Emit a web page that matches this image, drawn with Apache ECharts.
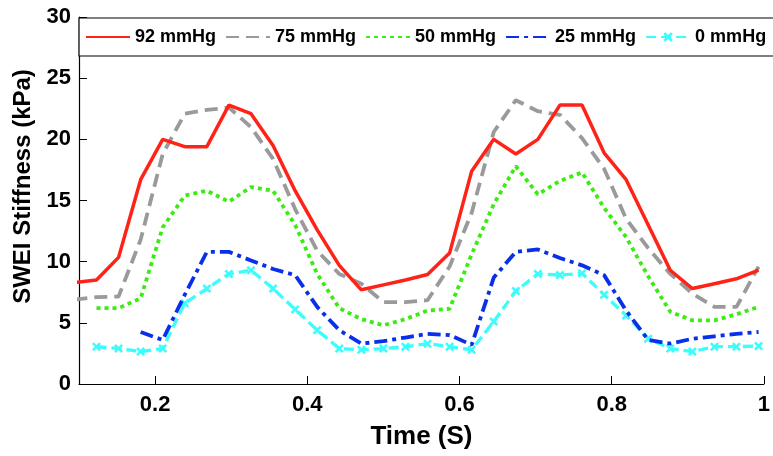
<!DOCTYPE html>
<html>
<head>
<meta charset="utf-8">
<script src="https://cdn.jsdelivr.net/npm/echarts@6/dist/echarts.min.js"></script>
<style>
html,body{margin:0;padding:0;background:#fff;}
#chart{width:773px;height:456px;}
</style>
</head>
<body>
<div id="chart"></div>
<script>
// Time samples (s)
const times = [0.094, 0.123, 0.152, 0.181, 0.210, 0.239, 0.268, 0.297, 0.326, 0.355, 0.384, 0.413, 0.442, 0.471, 0.500, 0.529, 0.558, 0.587, 0.616, 0.645, 0.674, 0.703, 0.732, 0.761, 0.790, 0.819, 0.848, 0.877, 0.906, 0.935, 0.964, 0.993];
const seriesNames = ['92 mmHg', '75 mmHg', '50 mmHg', '25 mmHg', '0 mmHg'];
const p92 = [8.3, 8.5, 10.35, 16.7, 20.0, 19.4, 19.4, 22.8, 22.1, 19.5, 15.8, 12.6, 9.7, 7.7, 8.1, 8.5, 8.95, 10.7, 17.4, 20.0, 18.8, 20.0, 22.8, 22.8, 18.9, 16.7, 13.0, 9.3, 7.8, 8.2, 8.6, 9.3];
const p75 = [6.9, 7.1, 7.15, 11.8, 18.8, 22.1, 22.4, 22.6, 21.0, 18.4, 14.3, 10.9, 9.0, 8.2, 6.7, 6.7, 6.85, 9.6, 14.0, 20.6, 23.2, 22.3, 22.0, 20.1, 17.6, 13.5, 11.1, 9.0, 7.4, 6.3, 6.3, 9.6];
const p50 = [null, 6.2, 6.2, 7.0, 12.8, 15.4, 15.8, 14.9, 16.1, 15.8, 13.0, 9.0, 6.2, 5.3, 4.8, 5.3, 6.0, 6.15, 10.6, 14.7, 17.8, 15.5, 16.6, 17.3, 14.4, 12.0, 8.8, 5.9, 5.2, 5.2, 5.7, 6.3];
const p25 = [null, null, null, 4.25, 3.6, 7.3, 10.8, 10.8, 10.1, 9.4, 8.9, 6.3, 4.4, 3.3, 3.5, 3.8, 4.1, 4.0, 3.2, 8.7, 10.8, 11.0, 10.3, 9.7, 8.9, 6.0, 3.6, 3.3, 3.7, 3.9, 4.1, 4.25];
const p0 = [null, 3.05, 2.9, 2.65, 2.9, 6.6, 7.8, 9.0, 9.3, 7.8, 6.1, 4.4, 2.9, 2.8, 2.9, 3.05, 3.3, 3.05, 2.8, 5.1, 7.6, 9.0, 8.9, 9.05, 7.3, 5.6, 3.7, 2.9, 2.65, 3.05, 3.05, 3.1];
const xTickLabels = [0.2, 0.4, 0.6, 0.8, 1];
const yTickLabels = [0, 5, 10, 15, 20, 25, 30];

const FONT = '"Liberation Sans", Arial, Helvetica, sans-serif';
const xShape = 'path://M2,0 L5,3 L8,0 L10,2 L7,5 L10,8 L8,10 L5,7 L2,10 L0,8 L3,5 L0,2 Z';

function pairs(vals) {
  const out = [];
  vals.forEach((v, i) => { if (v !== null) out.push([times[i], v]); });
  return out;
}

const styles = [
  { color: '#FF2217', type: 'solid', width: 3.5 },
  { color: '#9A9A9A', type: [13, 7], width: 3.8 },
  { color: '#3CEB12', type: [4, 4], width: 3.8 },
  { color: '#0A2FEA', type: [13, 5, 4, 5], width: 3.8 },
  { color: '#3DFCFC', type: [10, 5], width: 3.3 }
];
const allVals = [p92, p75, p50, p25, p0];

const series = allVals.map((vals, k) => ({
  name: seriesNames[k],
  type: 'line',
  data: pairs(vals),
  symbol: k === 4 ? xShape : 'none',
  symbolSize: 9,
  showSymbol: k === 4,
  clip: true,
  animation: false,
  lineStyle: { color: styles[k].color, type: styles[k].type, width: styles[k].width },
  itemStyle: { color: styles[k].color },
  z: 10 - k
}));

const legendData = seriesNames.map((n, k) => (
  k === 4 ? { name: n } : { name: n, itemStyle: { opacity: 0 } }
));

const chart = echarts.init(document.getElementById('chart'));
chart.setOption({
  animation: false,
  backgroundColor: '#fff',
  grid: { left: 79, right: 2, top: 17, bottom: 72, containLabel: false },
  legend: {
    data: legendData,
    left: 79, top: 18,
    width: 700,
    orient: 'horizontal',
    padding: [10, 11, 10, 6],
    itemWidth: 44, itemHeight: 12, itemGap: 9,
    backgroundColor: '#fff',
    borderColor: '#000', borderWidth: 1.2, borderRadius: 0,
    textStyle: { fontFamily: FONT, fontWeight: 'bold', fontSize: 18, color: '#000' },
    z: 20
  },
  xAxis: {
    type: 'value', min: 0.1, max: 1,
    name: 'Time (S)', nameLocation: 'middle', nameGap: 40,
    nameTextStyle: { fontFamily: FONT, fontWeight: 'bold', fontSize: 26, color: '#000' },
    axisLine: { show: true, lineStyle: { color: '#000', width: 1.2 } },
    axisTick: { show: true, inside: true, length: 8, customValues: xTickLabels, lineStyle: { color: '#000' } },
    axisLabel: { customValues: xTickLabels, margin: 10, formatter: v => String(v),
      fontFamily: FONT, fontWeight: 'bold', fontSize: 22, color: '#000' },
    splitLine: { show: false }
  },
  yAxis: {
    type: 'value', min: 0, max: 30, interval: 5,
    name: 'SWEI Stiffness (kPa)', nameLocation: 'middle', nameGap: 44, nameRotate: 90,
    nameTextStyle: { fontFamily: FONT, fontWeight: 'bold', fontSize: 24, color: '#000', padding: [0, 0, 0, 28] },
    axisLine: { show: true, lineStyle: { color: '#000', width: 1.2 } },
    axisTick: { show: true, inside: true, length: 8, lineStyle: { color: '#000' } },
    axisLabel: { margin: 8, fontFamily: FONT, fontWeight: 'bold', fontSize: 22, color: '#000',
      formatter: v => (yTickLabels.includes(v) ? String(v) : '') },
    splitLine: { show: false }
  },
  series: series
});
</script>
</body>
</html>
